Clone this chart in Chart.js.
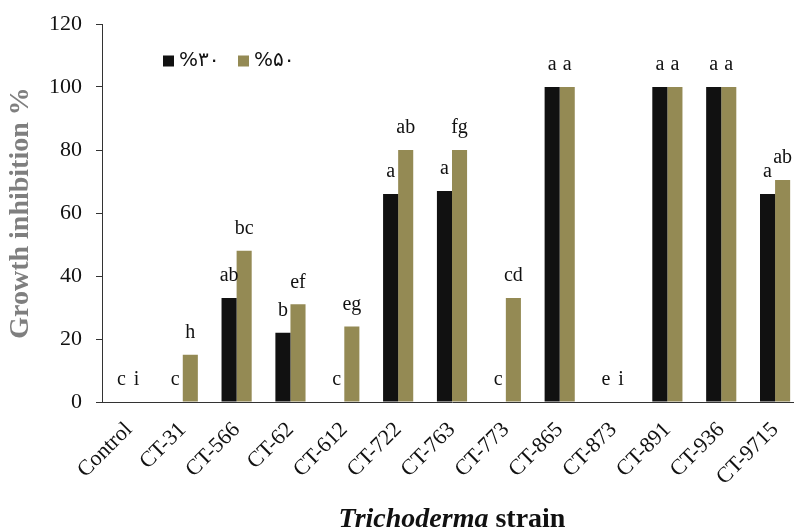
<!DOCTYPE html>
<html><head><meta charset="utf-8">
<script src="https://cdn.jsdelivr.net/npm/chart.js@4/dist/chart.umd.min.js"></script>
<style>
html,body{margin:0;padding:0;background:#fff;overflow:hidden;width:794px;height:531px}
#wrap{width:810px;height:531px;position:relative}
</style></head><body><div id="wrap"><canvas id="c" width="810" height="531"></canvas></div>
<script>
const categories = ['Control','CT-31','CT-566','CT-62','CT-612','CT-722','CT-763','CT-773','CT-865','CT-873','CT-891','CT-936','CT-9715'];
const seriesNames = ['%۳۰','%۵۰'];
const values30 = [0, 0, 33, 22, 0, 66, 67, 0, 100, 0, 100, 100, 66];
const values50 = [0, 15, 48, 31, 24, 80, 80, 33, 100, 0, 100, 100, 70.5];
const letters30 = ['c','c','ab','b','c','a','a','c','a','e','a','a','a'];
const letters50 = ['i','h','bc','ef','eg','ab','fg','cd','a','i','a','a','ab'];
const yMin = 0, yMax = 120, yStep = 20;
const yTitle = 'Growth inhibition %';
const xTitleItalic = 'Trichoderma';
const xTitleRest = ' strain';
const colors = ['#111111', '#948A54'];

const SERIF = '"Liberation Serif", "Times New Roman", serif';

const lettersPlugin = {
  id: 'letters',
  afterDatasetsDraw(chart) {
    const ctx = chart.ctx;
    const sets = [letters30, letters50];
    ctx.save();
    ctx.font = '20px ' + SERIF;
    ctx.fillStyle = '#111';
    ctx.textAlign = 'center';
    ctx.textBaseline = 'middle';
    sets.forEach((letters, di) => {
      const meta = chart.getDatasetMeta(di);
      meta.data.forEach((bar, i) => {
        ctx.fillText(letters[i], bar.x, bar.y - 22);
      });
    });
    ctx.restore();
  }
};

const legendPlugin = {
  id: 'customLegend',
  afterDraw(chart) {
    const ctx = chart.ctx;
    ctx.save();
    ctx.font = '20px "DejaVu Sans", sans-serif';
    ctx.textBaseline = 'middle';
    ctx.textAlign = 'left';
    const startX = 163, y = 61, box = 11;
    let x = startX;
    chart.data.datasets.forEach((ds, i) => {
      ctx.fillStyle = ds.backgroundColor;
      ctx.fillRect(x, y - box / 2, box, box);
      ctx.fillStyle = '#111';
      ctx.fillText(ds.label, x + box + 5, y);
      x += 75;
    });
    ctx.restore();
  }
};

const xTitlePlugin = {
  id: 'xTitle',
  afterDraw(chart) {
    const ctx = chart.ctx;
    const ca = chart.chartArea;
    ctx.save();
    ctx.fillStyle = '#111';
    ctx.textBaseline = 'middle';
    ctx.textAlign = 'left';
    const fItal = 'italic bold 28px ' + SERIF;
    const fBold = 'bold 28px ' + SERIF;
    ctx.font = fItal; const w1 = ctx.measureText(xTitleItalic).width;
    ctx.font = fBold; const w2 = ctx.measureText(xTitleRest).width;
    const cx = (ca.left + ca.right) / 2;
    let x = cx - (w1 + w2) / 2;
    const y = 520;
    ctx.font = fItal; ctx.fillText(xTitleItalic, x, y);
    ctx.font = fBold; ctx.fillText(xTitleRest, x + w1, y);
    ctx.restore();
  }
};

new Chart(document.getElementById('c'), {
  type: 'bar',
  data: {
    labels: categories,
    datasets: [
      { label: seriesNames[0], data: values30, backgroundColor: colors[0] },
      { label: seriesNames[1], data: values50, backgroundColor: colors[1] }
    ]
  },
  options: {
    responsive: false,
    devicePixelRatio: 1,
    animation: false,
    categoryPercentage: 0.56,
    barPercentage: 1,
    layout: { padding: { top: 24, right: 8, left: 0, bottom: 0 } },
    plugins: { legend: { display: false }, tooltip: { enabled: false } },
    scales: {
      x: {
        grid: { display: true, drawOnChartArea: false, drawTicks: false },
        border: { display: true, color: '#333', width: 1 },
        ticks: { font: { family: SERIF, size: 22 }, color: '#111', maxRotation: 45, minRotation: 45, autoSkip: false, padding: 15 },
        afterFit(s) { s.height = 129; }
      },
      y: {
        min: yMin, max: yMax,
        ticks: { stepSize: yStep, font: { family: SERIF, size: 22 }, color: '#111', padding: 14 },
        grid: { drawOnChartArea: false, drawTicks: true, tickLength: 6, color: '#333' },
        border: { display: true, color: '#333', width: 1 },
        title: { display: true, text: yTitle, font: { family: SERIF, size: 28, weight: 'bold' }, color: '#7f7f7f', padding: { top: 4, bottom: 0 } },
        afterFit(s) { s.width = 102; s.paddingTop = 12; s.paddingBottom = 12; }
      }
    }
  },
  plugins: [lettersPlugin, legendPlugin, xTitlePlugin]
});
</script></body></html>
